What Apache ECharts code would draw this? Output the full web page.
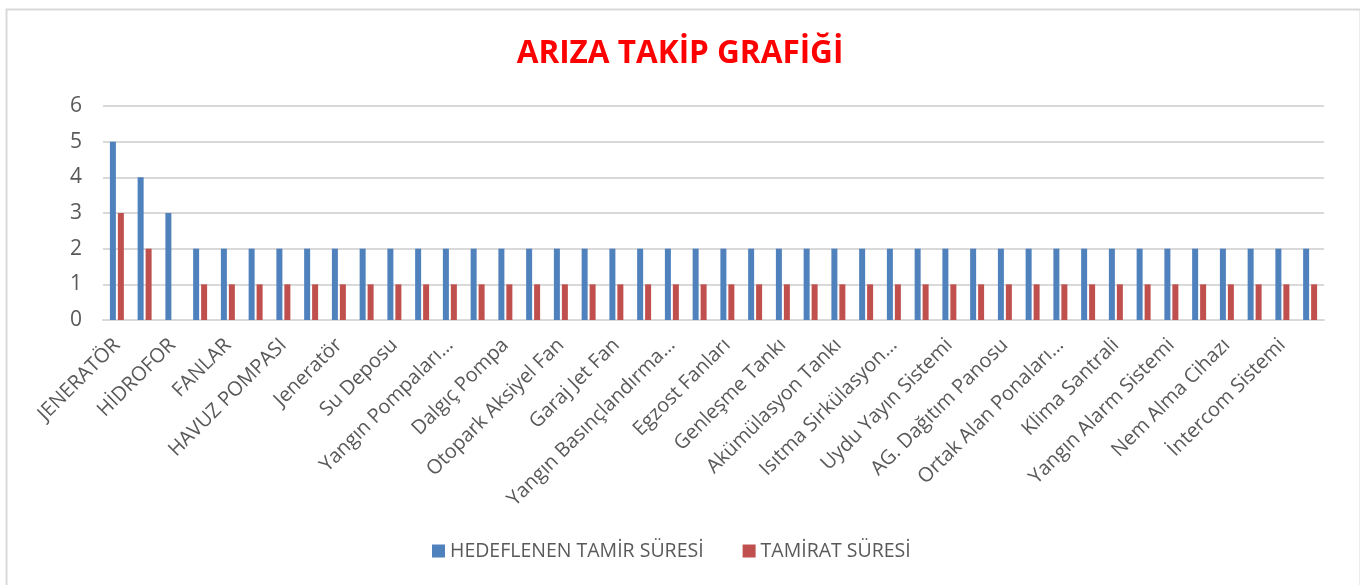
<!DOCTYPE html>
<html>
<head>
<meta charset="utf-8">
<script src="https://cdn.jsdelivr.net/npm/echarts@6/dist/echarts.min.js"></script>
<style>
html,body{margin:0;padding:0;background:#fff;}
#chart{width:1360px;height:585px;}
</style>
</head>
<body>
<div id="chart"></div>
<script>
const categories = [
  "JENERATÖR", "POMPALAR",
  "HİDROFOR", "ASANSÖR",
  "FANLAR", "KAZAN",
  "HAVUZ POMPASI", "Hidrofor",
  "Jeneratör", "Kazan Dairesi",
  "Su Deposu", "Arıtma Sistemi",
  "Yangın Pompaları…", "Drenaj Pompası",
  "Dalgıç Pompa", "Sirkülasyon Pompası",
  "Otopark Aksiyel Fan", "Otopark Egzost Fanı",
  "Garaj Jet Fan", "Merdiven Basınçlandırma",
  "Yangın Basınçlandırma…", "Taze Hava Fanı",
  "Egzost Fanları", "Genleşme Deposu",
  "Genleşme Tankı", "Boyler",
  "Akümülasyon Tankı", "Eşanjör",
  "Isıtma Sirkülasyon…", "Kullanım Suyu Pompası",
  "Uydu Yayın Sistemi", "Kamera Sistemi",
  "AG. Dağıtım Panosu", "Kompanzasyon Panosu",
  "Ortak Alan Ponaları…", "Aydınlatma Sistemi",
  "Klima Santrali", "Fan Coil",
  "Yangın Alarm Sistemi", "Sprinkler Sistemi",
  "Nem Alma Cihazı", "Kartlı Geçiş Sistemi",
  "İntercom Sistemi", "Otomatik Kapı"
];
const hedeflenen = [5,4,3,2,2,2,2,2,2,2,2,2,2,2,2,2,2,2,2,2,2,2,2,2,2,2,2,2,2,2,2,2,2,2,2,2,2,2,2,2,2,2,2,2];
const tamirat    = [3,2,0,1,1,1,1,1,1,1,1,1,1,1,1,1,1,1,1,1,1,1,1,1,1,1,1,1,1,1,1,1,1,1,1,1,1,1,1,1,1,1,1,1];
const seriesNames = ["HEDEFLENEN TAMİR SÜRESİ", "TAMİRAT SÜRESİ"];
const titleText = "ARIZA TAKİP GRAFİĞİ";

const chart = echarts.init(document.getElementById('chart'), null, {renderer:'canvas'});
const font = "'Open Sans', 'Noto Sans', sans-serif";
chart.setOption({
  animation: false,
  backgroundColor: '#ffffff',
  textStyle: {fontFamily: font},
  graphic: [{
    type: 'rect', left: 4, top: 7, z: -1,
    shape: {width: 1354, height: 600},
    style: {fill: 'none', stroke: '#d9d9d9', lineWidth: 2}
  }],
  title: {
    text: titleText, left: 'center', top: 33,
    textStyle: {color: '#ff0000', fontSize: 31.5, fontWeight: 'bold', fontFamily: font}
  },
  legend: {
    bottom: 19, left: 427,
    itemWidth: 13, itemHeight: 13, itemGap: 39,
    icon: 'rect',
    textStyle: {color: '#595959', fontSize: 19.5, fontFamily: font},
    data: seriesNames
  },
  grid: {left: 103, right: 36, top: 106, bottom: 265, containLabel: false},
  xAxis: {
    type: 'category', data: categories,
    axisLine: {show: true, lineStyle: {color: '#d9d9d9', width: 2}},
    axisTick: {show: false},
    axisLabel: {interval: 1, rotate: 45, margin: 22, color: '#595959', fontSize: 20, fontFamily: font}
  },
  yAxis: {
    type: 'value', min: 0, max: 6, interval: 1,
    axisLine: {show: false}, axisTick: {show: false},
    axisLabel: {color: '#595959', fontSize: 21, margin: 21, fontFamily: font},
    splitLine: {lineStyle: {color: '#d9d9d9', width: 2}}
  },
  series: [
    {name: seriesNames[0], type: 'bar', data: hedeflenen, barWidth: 6, barGap: '33%',
     itemStyle: {color: '#4f81bd'}},
    {name: seriesNames[1], type: 'bar', data: tamirat, barWidth: 6, barGap: '33%',
     itemStyle: {color: '#c0504d'}}
  ]
});
</script>
</body>
</html>
